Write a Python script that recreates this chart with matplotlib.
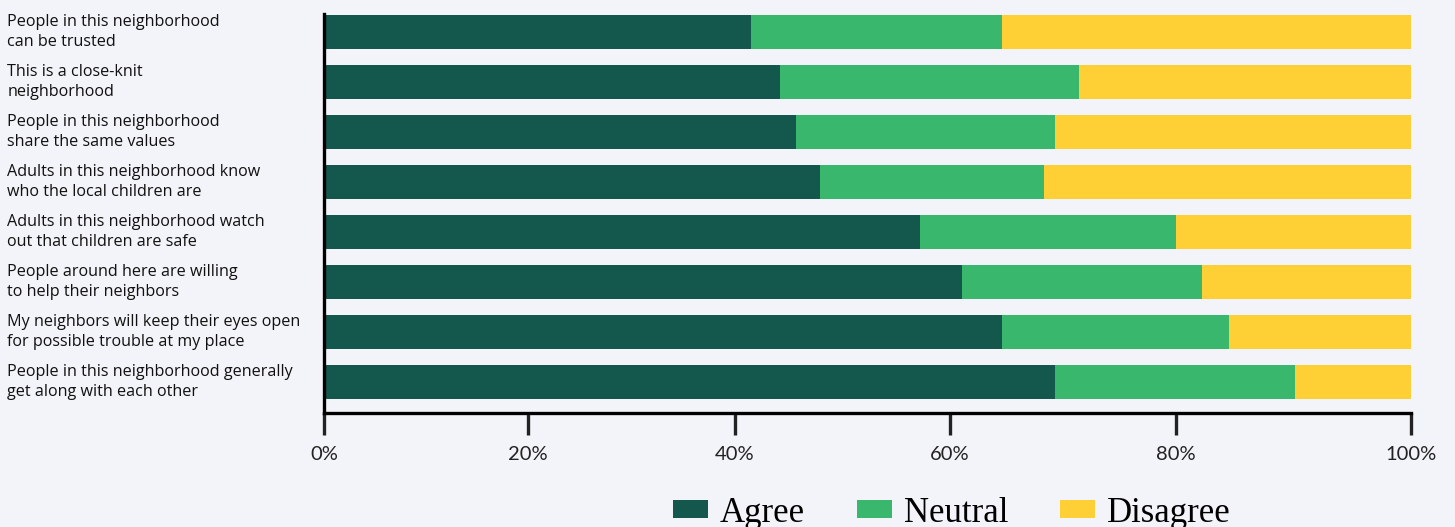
import numpy as np
import matplotlib
matplotlib.use("Agg")
import matplotlib.pyplot as plt

statements = [
    "People in this neighborhood\ncan be trusted",
    "This is a close-knit\nneighborhood",
    "People in this neighborhood\nshare the same values",
    "Adults in this neighborhood know\nwho the local children are",
    "Adults in this neighborhood watch\nout that children are safe",
    "People around here are willing\nto help their neighbors",
    "My neighbors will keep their eyes open\nfor possible trouble at my place",
    "People in this neighborhood generally\nget along with each other",
]
agree = [41.5, 44.2, 45.7, 47.9, 57.2, 61.1, 64.6, 69.3]
neutral = [23.1, 27.2, 23.6, 20.4, 22.8, 21.1, 19.9, 20.8]
disagree = [35.4, 28.6, 30.7, 31.7, 20.0, 17.8, 15.5, 9.9]

tick_vals = [0, 20, 40, 60, 80, 100]
tick_labels = ["0%", "20%", "40%", "60%", "80%", "100%"]
# the axis is stretched unevenly between ticks, so map it piecewise
tick_spots = [0, 204, 411, 626, 852, 1087]

colors = {"Agree": "#14574d", "Neutral": "#38b76d", "Disagree": "#ffcf36"}
bg = "#f3f4f9"

def fwd(v):
    return np.interp(v, tick_vals, tick_spots)

def inv(x):
    return np.interp(x, tick_spots, tick_vals)

fig = plt.figure(figsize=(14.55, 5.27), dpi=100, facecolor=bg)
ax = fig.add_axes([324 / 1455, 1 - 413 / 527, (1411 - 324) / 1455, (413 - 14) / 527])
ax.set_facecolor(bg)
ax.set_xscale("function", functions=(fwd, inv))

y = np.arange(len(statements))
left = np.zeros(len(statements))
for name, vals in [("Agree", agree), ("Neutral", neutral), ("Disagree", disagree)]:
    ax.barh(y, vals, left=left, height=0.68, color=colors[name], label=name, linewidth=0)
    left += np.array(vals)

ax.set_xlim(0, 100)
ax.set_ylim(len(statements) - 1 + 0.62, -0.36)

ax.set_xticks(tick_vals)
ax.set_xticklabels(tick_labels, fontsize=14.5, family="Lato", color="#222222")
ax.tick_params(axis="x", length=16, width=2.4, color="#222222", pad=8)

ax.set_yticks(y)
ax.set_yticklabels(statements, fontsize=11.6, family="Open Sans", color="#111111",
                   ha="left", va="center", linespacing=1.32)
ax.tick_params(axis="y", length=0, pad=228)

for side in ["top", "right"]:
    ax.spines[side].set_visible(False)
ax.spines["left"].set_linewidth(2.4)
ax.spines["left"].set_color("black")
ax.spines["bottom"].set_linewidth(2.4)
ax.spines["bottom"].set_color("black")

fig.legend(loc="center", bbox_to_anchor=(952 / 1455, 1 - 513 / 527), ncol=3,
           frameon=False, prop={"family": "Liberation Serif", "size": 25},
           handlelength=1.0, handleheight=0.4, handletextpad=0.35,
           columnspacing=1.5)

fig.savefig("out.png", dpi=100, facecolor=bg)
